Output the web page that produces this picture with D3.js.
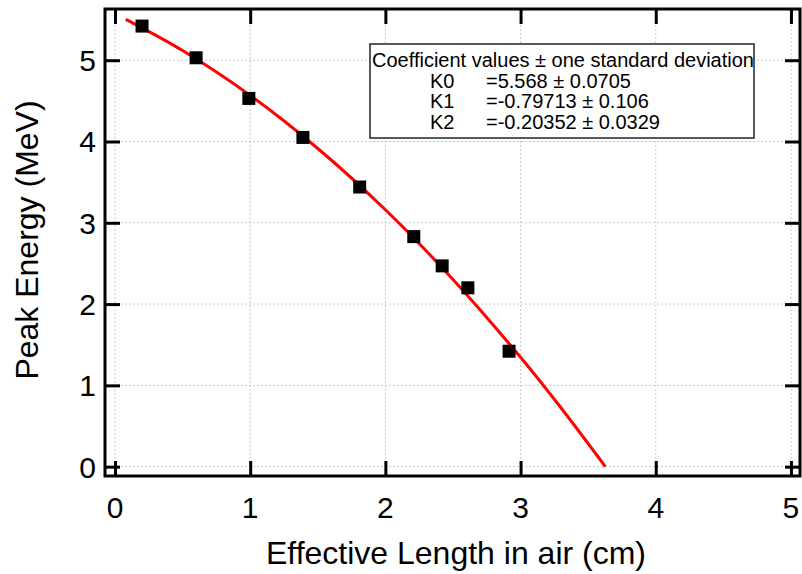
<!DOCTYPE html>
<html>
<head>
<meta charset="utf-8">
<script src="https://cdn.jsdelivr.net/npm/d3@7"></script>
<style>
  body { margin: 0; background: #fff; }
  svg { display: block; font-family: "Liberation Sans", Arial, sans-serif; }
</style>
</head>
<body>
<div id="chart"></div>
<script>
// measured points (length in cm, energy in MeV)
const lengths = [0.2, 0.6, 0.99, 1.39, 1.81, 2.21, 2.42, 2.61, 2.915];
const energies = [5.42, 5.03, 4.53, 4.05, 3.44, 2.83, 2.47, 2.20, 1.42];

// fitted curve
const fitX = [0.08, 0.5, 1.0, 1.5, 2.0, 2.5, 3.0, 3.3, 3.627];
const fitY = [5.503, 5.119, 4.567, 3.914, 3.160, 2.303, 1.345, 0.721, 0.0];

const xTicks = [0, 1, 2, 3, 4, 5];
const yTicks = [0, 1, 2, 3, 4, 5];

const legendTitle = "Coefficient values \u00b1 one standard deviation";
const coefNames = ["K0", "K1", "K2"];
const coefValues = ["=5.568 \u00b1 0.0705", "=-0.79713 \u00b1 0.106", "=-0.20352 \u00b1 0.0329"];

const W = 802, H = 574;
const pL = 105, pR = 800, pT = 9, pB = 476;

const svg = d3.select("#chart").append("svg")
    .attr("width", W).attr("height", H);

const x = d3.scaleLinear().domain([-0.074, 5.067]).range([pL, pR]);
const y = d3.scaleLinear().domain([-0.115, 5.63]).range([pB, pT]);

// grid (dotted)
const grid = svg.append("g").attr("stroke", "#c8c8c8").attr("stroke-width", 1)
    .attr("stroke-dasharray", "2,2");
grid.selectAll("line.gx").data(xTicks).enter().append("line")
    .attr("x1", d => x(d)).attr("x2", d => x(d))
    .attr("y1", pT).attr("y2", pB);
grid.selectAll("line.gy").data(yTicks).enter().append("line")
    .attr("y1", d => y(d)).attr("y2", d => y(d))
    .attr("x1", pL).attr("x2", pR);

// axes with inward ticks on all 4 sides
const tickLen = 15;
const axisB = d3.axisTop(x).tickValues(xTicks).tickSize(tickLen).tickFormat("");
const axisT = d3.axisBottom(x).tickValues(xTicks).tickSize(tickLen).tickFormat("");
const axisL = d3.axisRight(y).tickValues(yTicks).tickSize(tickLen).tickFormat("");
const axisR = d3.axisLeft(y).tickValues(yTicks).tickSize(tickLen).tickFormat("");

function styleAxis(g) {
    g.select(".domain").remove();
    g.selectAll(".tick line").attr("stroke", "#000").attr("stroke-width", 3);
}
svg.append("g").attr("transform", `translate(0,${pB})`).call(axisB).call(styleAxis);
svg.append("g").attr("transform", `translate(0,${pT})`).call(axisT).call(styleAxis);
svg.append("g").attr("transform", `translate(${pL},0)`).call(axisL).call(styleAxis);
svg.append("g").attr("transform", `translate(${pR},0)`).call(axisR).call(styleAxis);

// frame
svg.append("rect")
    .attr("x", pL).attr("y", pT)
    .attr("width", pR - pL).attr("height", pB - pT)
    .attr("fill", "none").attr("stroke", "#000").attr("stroke-width", 3);

// tick labels
svg.append("g").selectAll("text").data(xTicks).enter().append("text")
    .attr("x", d => x(d)).attr("y", 518)
    .attr("text-anchor", "middle").attr("font-size", 30)
    .text(d => d);
svg.append("g").selectAll("text").data(yTicks).enter().append("text")
    .attr("x", 96).attr("y", d => y(d) + 11)
    .attr("text-anchor", "end").attr("font-size", 30)
    .text(d => d);

// axis titles
svg.append("text")
    .attr("x", 456).attr("y", 564)
    .attr("text-anchor", "middle").attr("font-size", 32)
    .text("Effective Length in air (cm)");
svg.append("text")
    .attr("transform", "translate(38,240) rotate(-90)")
    .attr("text-anchor", "middle").attr("font-size", 32)
    .text("Peak Energy (MeV)");

// fit curve
const line = d3.line().x(d => x(d[0])).y(d => y(d[1])).curve(d3.curveCatmullRom);
svg.append("path")
    .datum(d3.zip(fitX, fitY))
    .attr("d", line)
    .attr("fill", "none").attr("stroke", "#ff0000").attr("stroke-width", 3);

// data squares
const sq = 13;
svg.append("g").selectAll("rect").data(d3.zip(lengths, energies)).enter().append("rect")
    .attr("x", d => x(d[0]) - sq / 2).attr("y", d => y(d[1]) - sq / 2)
    .attr("width", sq).attr("height", sq)
    .attr("fill", "#000");

// legend box
const lg = svg.append("g");
lg.append("rect")
    .attr("x", 370).attr("y", 44).attr("width", 384).attr("height", 94)
    .attr("fill", "#fff").attr("stroke", "#222").attr("stroke-width", 1.5);
lg.append("text").attr("x", 372).attr("y", 66.5).attr("font-size", 20).text(legendTitle);
coefNames.forEach((n, i) => {
    lg.append("text").attr("x", 430).attr("y", 87.5 + i * 20.5).attr("font-size", 20).text(n);
    lg.append("text").attr("x", 486).attr("y", 87.5 + i * 20.5).attr("font-size", 20).text(coefValues[i]);
});
</script>
</body>
</html>
